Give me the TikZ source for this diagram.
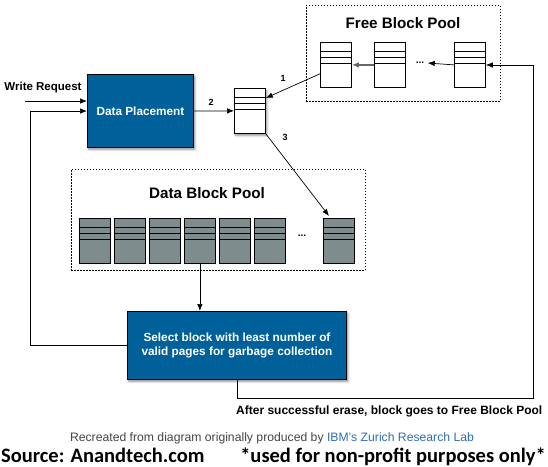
\documentclass[tikz,border=0pt]{standalone}
\usepackage{fontspec}
\setmainfont{Liberation Sans}
\newfontfamily\srcfont{Carlito}
\usetikzlibrary{arrows.meta,calc,shadows.blur}
\definecolor{boxblue}{HTML}{00609A}
\definecolor{blockgray}{HTML}{7F8C8D}
\definecolor{linkblue}{HTML}{2E6DB4}
\definecolor{notegray}{HTML}{444444}
\begin{document}
\begin{tikzpicture}[x=1pt,y=-1pt,
  shad/.style={blur shadow={shadow blur steps=6, shadow xshift=1.5pt, shadow yshift=-2pt, shadow opacity=45}},
  mainbox/.style={draw=black, line width=0.9pt, fill=boxblue, text=white,
    font=\bfseries\fontsize{11.8}{14.5}\selectfont, align=center, anchor=north west, inner sep=0pt, shad},
  blk/.style={draw=black, line width=0.8pt, anchor=north west, minimum width=31pt, minimum height=45pt, inner sep=0pt,
    path picture={\foreach \d in {9,15,21} \draw[line width=0.8pt] ([yshift={-\d pt}]path picture bounding box.north west) -- ([yshift={-\d pt}]path picture bounding box.north east);}},
  freeblk/.style={blk, fill=white},
  datablk/.style={blk, fill=blockgray},
  pool/.style={draw=black, line width=0.6pt, dash pattern=on 1.5pt off 1.5pt, anchor=north west, inner sep=0pt, fill=white},
  title/.style={font=\bfseries\fontsize{15.2}{17}\selectfont},
  lbl/.style={font=\bfseries\fontsize{11.5}{13}\selectfont},
  num/.style={font=\bfseries\fontsize{9}{10}\selectfont},
  dots/.style={font=\bfseries\fontsize{10}{11}\selectfont},
  arr/.style={line width=0.7pt, -{Latex[length=7pt,width=5.5pt]}},
  srcf/.style={font=\srcfont\bfseries\fontsize{20.5}{23}\selectfont, inner sep=0pt}
]
\useasboundingbox (0,0) rectangle (548,466);

% pools
\node[pool, minimum width=194pt, minimum height=96pt] (fbp) at (306,5) {};
\node[pool, minimum width=294pt, minimum height=101pt] (dbp) at (71,169) {};
\node[title] (fbt) at (403,23) {Free Block Pool};
\node[title] (dbt) at (207,193) {Data Block Pool};

% free blocks
\node[freeblk] (fb1) at (320,42) {};
\node[freeblk] (fb2) at (374,42) {};
\node[freeblk] (fb3) at (454,42) {};
\node[dots] (fdots) at (420,63) {...};

% data blocks
\node[datablk] (db1) at (79,218) {};
\node[datablk] (db2) at (114,218) {};
\node[datablk] (db3) at (149,218) {};
\node[datablk] (db4) at (184,218) {};
\node[datablk] (db5) at (219,218) {};
\node[datablk] (db6) at (254,218) {};
\node[datablk] (db7) at (323,218) {};
\node[dots] (ddots) at (302,236) {...};

% central block
\node[freeblk, shad] (cb) at (234,88) {};

% main boxes
\node[mainbox, minimum width=106pt, minimum height=73pt] (dp) at (87,74) {Data Placement};
\node[mainbox, minimum width=219pt, minimum height=68pt] (sel) at (127,311) {Select block with least number of\\valid pages for garbage collection};

% texts
\node[lbl] (wr) at (43,88) {Write Request};
\coordinate (wrs) at (25,101);
\coordinate (lft) at (30,111);
\coordinate (rr) at (533,65);

% connectors
\draw[arr] (wrs) -- (wrs -| dp.west);
\draw[arr] (sel.west) -| (lft) -- (lft -| dp.west);
\draw[arr] (dp.east) -- (cb.west);
\node[num] (n2) at (211,102) {2};
\draw[arr] ($(fb1.south west)+(0,-14)$) -- ($(cb.north east)+(0,10)$);
\node[num] (n1) at (283,78) {1};
\draw[arr] (cb.south east) -- ($(db7.north west)+(6,-2)$);
\node[num] (n3) at (285,137) {3};
\draw[arr, draw=black!60, line width=1.3pt] (fb2.west) -- (fb1.east);
\draw[arr] (fb3.west) -- (fdots.east);
\draw[arr] (db4.south) -- (db4.south |- sel.north);
\draw[arr] (sel.south) -- ++(0,18) -| (rr) -- (rr -| fb3.east);

\node[font=\bfseries\fontsize{12}{14}\selectfont, anchor=west, inner sep=0pt] (erase) at (236,411) {After successful erase, block goes to Free Block Pool};
\node[text=notegray, font=\fontsize{12.2}{14}\selectfont, inner sep=0pt] (credit) at (272,438) {Recreated from diagram originally produced by \textcolor{linkblue}{IBM's Zurich Research Lab}};
\node[srcf, anchor=base west] (src) at (1,462) {Source: Anandtech.com};
\node[srcf, anchor=base east] (use) at (546,462) {*used for non-profit purposes only*};
\end{tikzpicture}
\end{document}
